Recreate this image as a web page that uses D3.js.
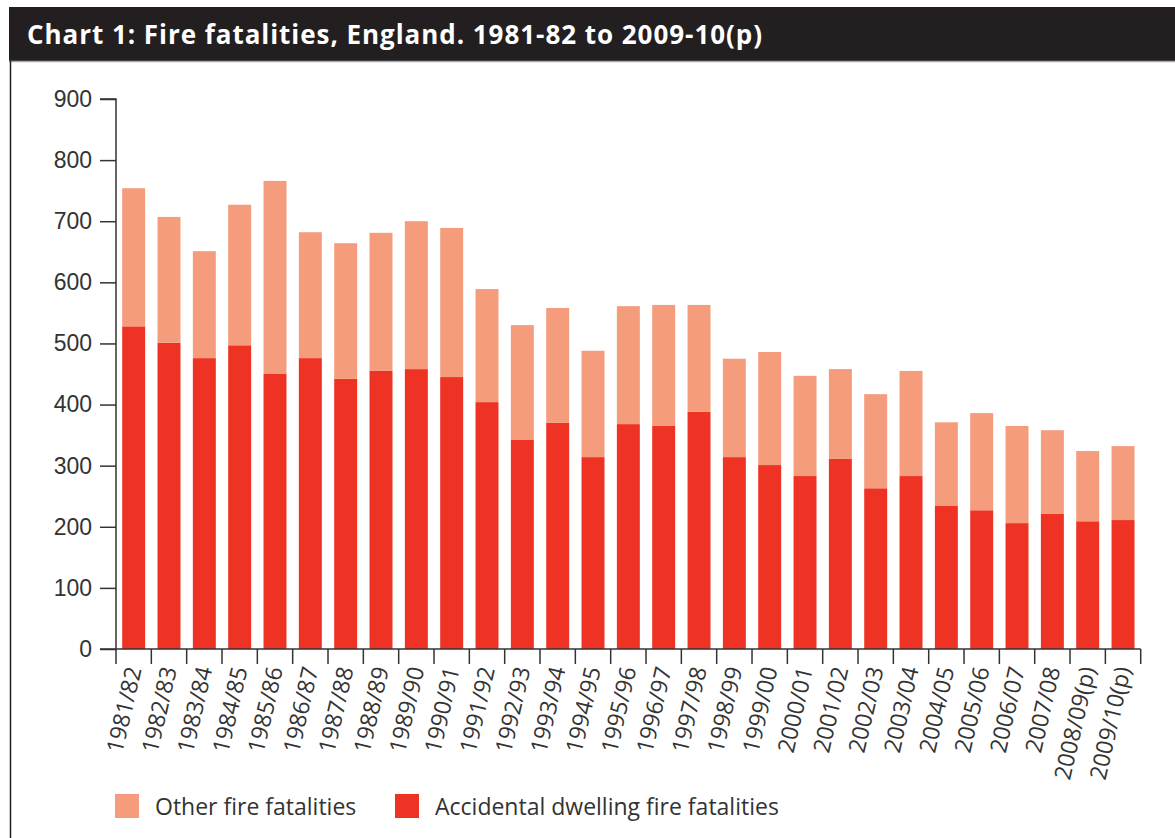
<!DOCTYPE html>
<html>
<head>
<meta charset="utf-8">
<script src="https://cdn.jsdelivr.net/npm/d3@7"></script>
<style>
  html, body { margin: 0; padding: 0; background: #fff; }
  svg { display: block; font-family: 'Open Sans', 'Noto Sans', sans-serif; }
</style>
</head>
<body>
<div id="chart"></div>
<script>
// Fire fatalities, England, stacked bars

var years = ['1981/82','1982/83','1983/84','1984/85','1985/86','1986/87','1987/88','1988/89',
  '1989/90','1990/91','1991/92','1992/93','1993/94','1994/95','1995/96','1996/97','1997/98',
  '1998/99','1999/00','2000/01','2001/02','2002/03','2003/04','2004/05','2005/06','2006/07',
  '2007/08','2008/09(p)','2009/10(p)'];

var accidental = [528, 501, 476, 497, 450, 476, 442, 455, 458, 445, 404, 342, 370, 314, 368, 365, 388,
  314, 301, 283, 311, 263, 283, 234, 227, 206, 221, 209, 211];

var totals = [754, 707, 651, 727, 766, 682, 664, 681, 700, 689, 589, 530, 558, 488, 561, 563, 563,
  475, 486, 447, 458, 417, 455, 371, 386, 365, 358, 324, 332];

var other = totals.map(function (t, i) { return t - accidental[i]; });

var yTicks = [0, 100, 200, 300, 400, 500, 600, 700, 800, 900];

var seriesNames = ['Other fire fatalities', 'Accidental dwelling fire fatalities'];
var COLORS = { other: '#f59c7c', accidental: '#ee3224' };
var TEXT = '#333';

var W = 1175, H = 838;
var svg = d3.select('#chart').append('svg').attr('width', W).attr('height', H);

// header bar
svg.append('rect').attr('x', 9).attr('y', 7).attr('width', W - 9).attr('height', 54).attr('fill', '#231f20');
svg.append('line').attr('x1', 9).attr('x2', W).attr('y1', 61.5).attr('y2', 61.5)
  .attr('stroke', '#aaa').attr('stroke-width', 1.5);
svg.append('text').attr('x', 27).attr('y', 44)
  .attr('fill', '#fff').attr('font-size', 26).attr('font-weight', 'bold')
  .attr('textLength', 735).attr('lengthAdjust', 'spacing')
  .text('Chart 1: Fire fatalities, England. 1981-82 to 2009-10(p)');
// frame left edge
svg.append('line').attr('x1', 10.5).attr('x2', 10.5).attr('y1', 61).attr('y2', H)
  .attr('stroke', '#231f20').attr('stroke-width', 1.5);

var plotLeft = 116, plotRight = 1140.7, plotTop = 99, plotBottom = 649;

var x = d3.scaleBand().domain(years).range([plotLeft, plotRight]).paddingInner(0.35).paddingOuter(0.175);
var y = d3.scaleLinear().domain([0, 900]).range([plotBottom, plotTop]);

var data = years.map(function (yr, i) {
  return { year: yr, accidental: accidental[i], other: other[i] };
});
var stack = d3.stack().keys(['accidental', 'other'])(data);

svg.append('g').selectAll('g').data(stack).join('g')
  .attr('fill', function (d) { return COLORS[d.key]; })
  .selectAll('rect').data(function (d) { return d; }).join('rect')
  .attr('x', function (d) { return x(d.data.year); })
  .attr('width', x.bandwidth())
  .attr('y', function (d) { return y(d[1]); })
  .attr('height', function (d) { return y(d[0]) - y(d[1]); });

// y axis
var yAxis = svg.append('g').attr('transform', 'translate(' + plotLeft + ',0)')
  .call(d3.axisLeft(y).tickValues(yTicks).tickSize(16).tickPadding(8));
yAxis.select('.domain').attr('stroke', TEXT).attr('stroke-width', 1.5)
  .attr('d', 'M-16,' + plotTop + 'H0V' + plotBottom);
yAxis.selectAll('.tick line').attr('stroke', TEXT).attr('stroke-width', 1.5);
yAxis.selectAll('.tick text').attr('fill', TEXT).attr('font-size', 23).attr('font-family', null);

// x axis: ticks on category boundaries
var bounds = d3.range(years.length + 1).map(function (i) {
  return plotLeft + i * (plotRight - plotLeft) / years.length;
});
var xg = svg.append('g');
xg.append('line').attr('x1', plotLeft - 16).attr('x2', plotRight).attr('y1', plotBottom).attr('y2', plotBottom)
  .attr('stroke', TEXT).attr('stroke-width', 1.5);
xg.selectAll('line.b').data(bounds).join('line').attr('class', 'b')
  .attr('x1', function (d) { return d; }).attr('x2', function (d) { return d; })
  .attr('y1', plotBottom).attr('y2', plotBottom + 15)
  .attr('stroke', TEXT).attr('stroke-width', 1.5);
xg.selectAll('text').data(years).join('text')
  .attr('transform', function (d) {
    return 'translate(' + (x(d) + x.bandwidth() / 2 + 8) + ',' + (plotBottom + 20) + ') rotate(-77)';
  })
  .attr('text-anchor', 'end').attr('fill', TEXT).attr('font-size', 23)
  .text(function (d) { return d; });

// legend
var legend = [
  { name: seriesNames[0], color: COLORS.other, x: 115 },
  { name: seriesNames[1], color: COLORS.accidental, x: 395 }
];
var lg = svg.append('g').selectAll('g').data(legend).join('g')
  .attr('transform', function (d) { return 'translate(' + d.x + ',794)'; });
lg.append('rect').attr('width', 24).attr('height', 24).attr('fill', function (d) { return d.color; });
lg.append('text').attr('x', 40).attr('y', 21).attr('font-size', 23).attr('fill', TEXT)
  .text(function (d) { return d.name; });
</script>
</body>
</html>
